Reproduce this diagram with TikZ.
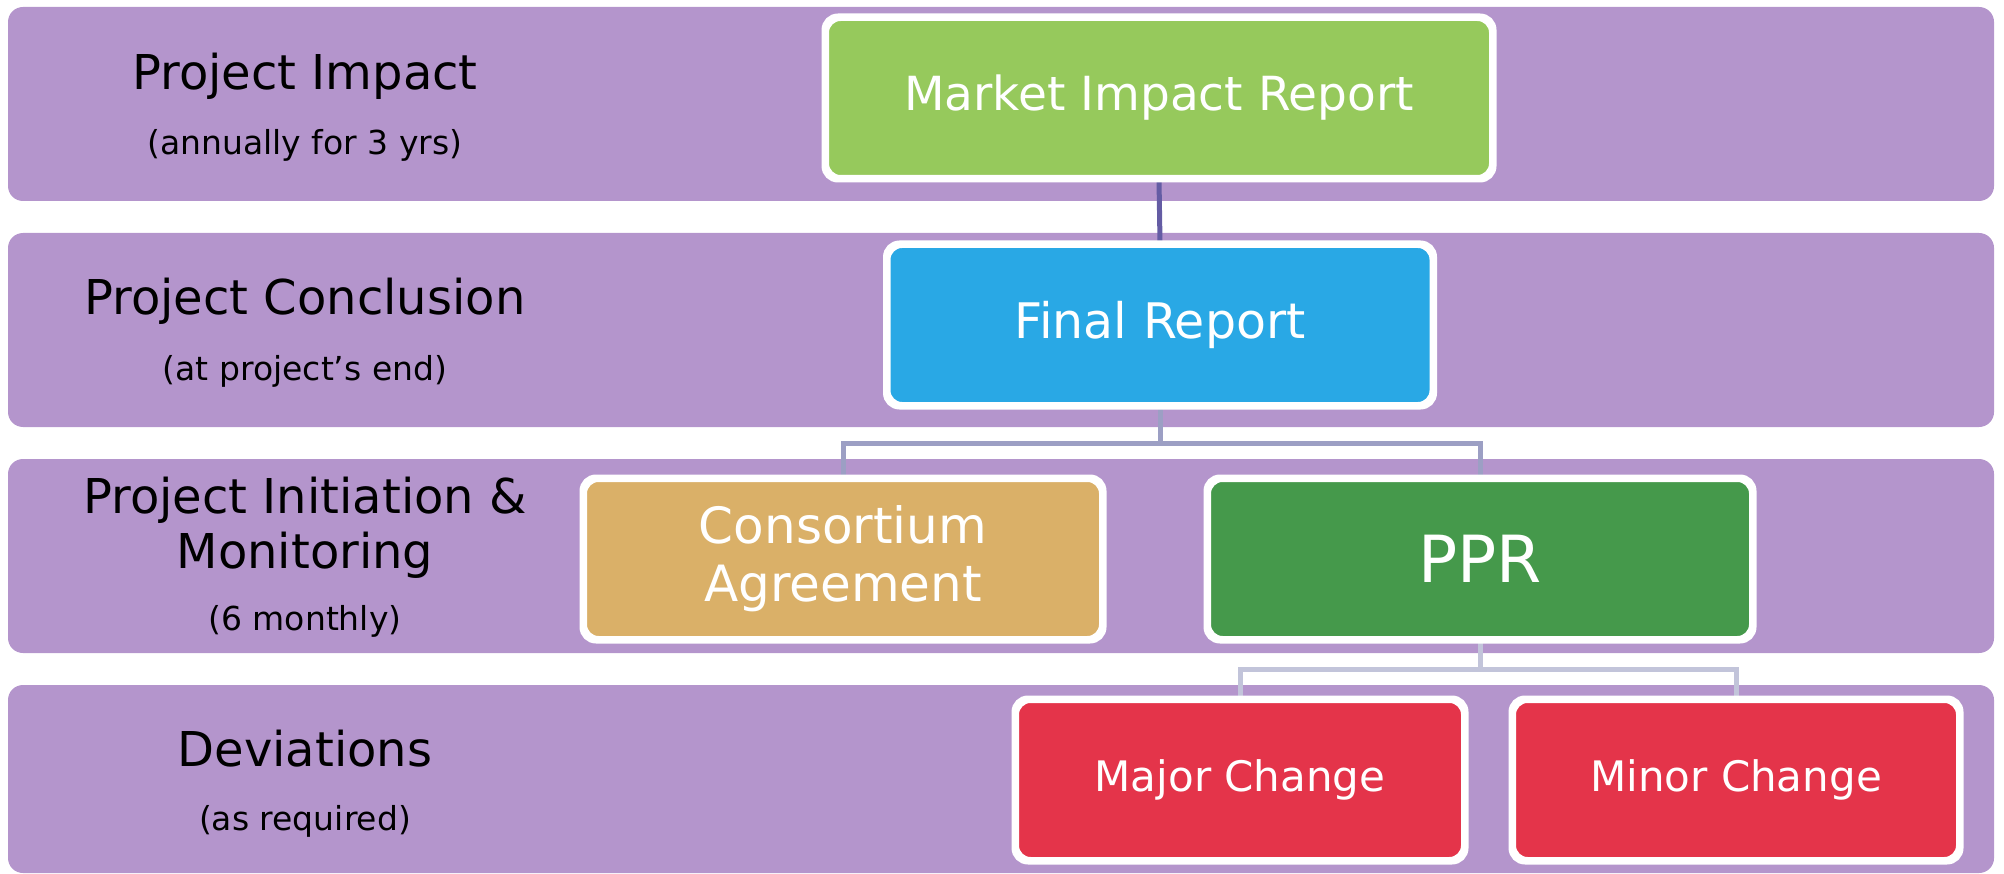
\documentclass[tikz,border=0pt]{standalone}
\usepackage{fontspec}
\setmainfont{DejaVu Sans}
\definecolor{band}{RGB}{180,149,204}
\definecolor{cgreen}{RGB}{150,201,92}
\definecolor{cblue}{RGB}{41,168,229}
\definecolor{cgold}{RGB}{218,176,104}
\definecolor{cdgreen}{RGB}{69,153,75}
\definecolor{cred}{RGB}{228,52,74}
\definecolor{lineA}{RGB}{100,92,164}
\definecolor{lineB}{RGB}{156,159,196}
\definecolor{lineC}{RGB}{194,196,218}
\tikzset{
  bandbox/.style={fill=band, draw=none, rounded corners=15pt},
  card/.style={draw=white, line width=5pt, rounded corners=14pt, text=white, align=center, inner sep=0pt, minimum height=159pt},
  head/.style={font=\fontsize{48}{56}\selectfont, text=black, align=center, inner sep=0pt, anchor=base},
  sub/.style={font=\fontsize{33}{38}\selectfont, text=black, inner sep=0pt, anchor=base},
  conn/.style={line width=5pt}
}
\begin{document}
\begin{tikzpicture}[x=1pt,y=-1pt]
\useasboundingbox (0,0) rectangle (2004,874);
% bands
\fill[bandbox] (8,7) rectangle (1994,201);
\fill[bandbox] (8,233) rectangle (1994,427);
\fill[bandbox] (8,459) rectangle (1994,653);
\fill[bandbox] (8,685) rectangle (1994,873);
% left labels
\node[head] (h1) at (305,90) {Project Impact};
\node[sub] (s1) at (305,155) {(annually for 3 yrs)};
\node[head] (h2) at (305,315) {Project Conclusion};
\node[sub] (s2) at (305,380) {(at project’s end)};
\node[head] (h3a) at (305,513) {Project Initiation \&};
\node[head] (h3b) at (305,568) {Monitoring};
\node[sub] (s3) at (305,630) {(6 monthly)};
\node[head] (h4) at (305,766) {Deviations};
\node[sub] (s4) at (305,830) {(as required)};
% cards
\node[card, fill=cgreen, minimum width=665pt, font=\fontsize{47}{52}\selectfont] (mir) at (1159,98) {Market Impact Report};
\node[card, fill=cblue, minimum width=544pt, font=\fontsize{49}{52}\selectfont] (fr) at (1160,325) {Final Report};
\node[card, fill=cgold, minimum width=517pt, font=\fontsize{50}{58}\selectfont] (ca) at (843,559) {Consortium\\Agreement};
\node[card, fill=cdgreen, minimum width=543pt, font=\fontsize{65}{72}\selectfont] (ppr) at (1480,559) {PPR};
\node[card, fill=cred, minimum width=447pt, font=\fontsize{42}{48}\selectfont] (maj) at (1240,780) {Major Change};
\node[card, fill=cred, minimum width=445pt, font=\fontsize{42}{48}\selectfont] (min) at (1736,780) {Minor Change};
% connectors
\coordinate (j1) at (1160,443);
\coordinate (j2) at (1480,669);
\draw[conn, lineA] (mir.south) -- (fr.north);
\draw[conn, lineB] (fr.south) -- (j1);
\draw[conn, lineB] (ca.north) |- (j1) -| (ppr.north);
\draw[conn, lineC] (ppr.south) -- (j2);
\draw[conn, lineC] (maj.north) |- (j2) -| (min.north);
% redraw card borders over connector ends
\foreach \n in {mir,fr,ca,ppr,maj,min}{
  \draw[white, line width=5pt, rounded corners=14pt] (\n.south west) rectangle (\n.north east);
}
\end{tikzpicture}
\end{document}
